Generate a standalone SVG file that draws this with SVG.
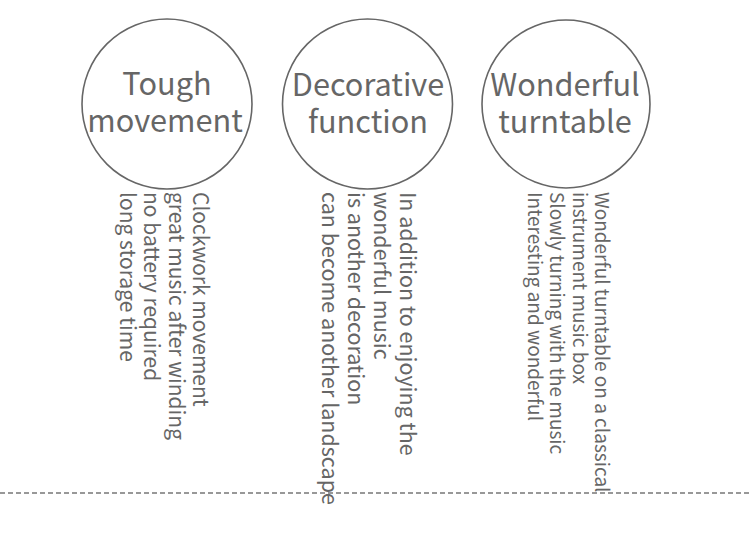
<svg xmlns="http://www.w3.org/2000/svg" width="750" height="543" viewBox="0 0 750 543">
<style>
.c{fill:none;stroke:#666;stroke-width:1.6}
.t{font-family:"Noto Sans CJK SC","Noto Sans",sans-serif;fill:#666;text-anchor:middle;font-size:30.7px}
.b{font-family:"Noto Sans CJK SC","Noto Sans",sans-serif;fill:#666}
.d{stroke:#333;stroke-width:1.2;stroke-dasharray:5 3;fill:none}
</style>
<rect width="750" height="543" fill="#fff"/>
<g id="node1">
<circle class="c" cx="167" cy="104" r="85"/>
<text class="t" x="167" y="95">Tough</text>
<text class="t" x="165" y="132">movement</text>
<text class="b" font-size="21" transform="translate(193 192) rotate(90)"><tspan x="0" y="0">Clockwork movement</tspan><tspan x="0" y="24.5">great music after winding</tspan><tspan x="0" y="49">no battery required</tspan><tspan x="0" y="73.5">long storage time</tspan></text>
</g>
<g id="node2">
<circle class="c" cx="367.5" cy="104" r="85"/>
<text class="t" x="368" y="96">Decorative</text>
<text class="t" x="368" y="133">function</text>
<text class="b" font-size="21.5" transform="translate(400 192) rotate(90)"><tspan x="0" y="0">In addition to enjoying the</tspan><tspan x="0" y="26">wonderful music</tspan><tspan x="0" y="52">is another decoration</tspan><tspan x="0" y="78">can become another landscape</tspan></text>
</g>
<g id="node3">
<circle class="c" cx="566" cy="104" r="84"/>
<text class="t" x="565" y="96">Wonderful</text>
<text class="t" x="565" y="133">turntable</text>
<text class="b" font-size="19" transform="translate(595 192) rotate(90)"><tspan x="0" y="0">Wonderful turntable on a classical</tspan><tspan x="0" y="22.3">instrument music box</tspan><tspan x="0" y="44.6">Slowly turning with the music</tspan><tspan x="0" y="66.9">Interesting and wonderful</tspan></text>
</g>
<g id="connectors">
<line class="d" x1="0" y1="493" x2="750" y2="493"/>
</g>
</svg>
